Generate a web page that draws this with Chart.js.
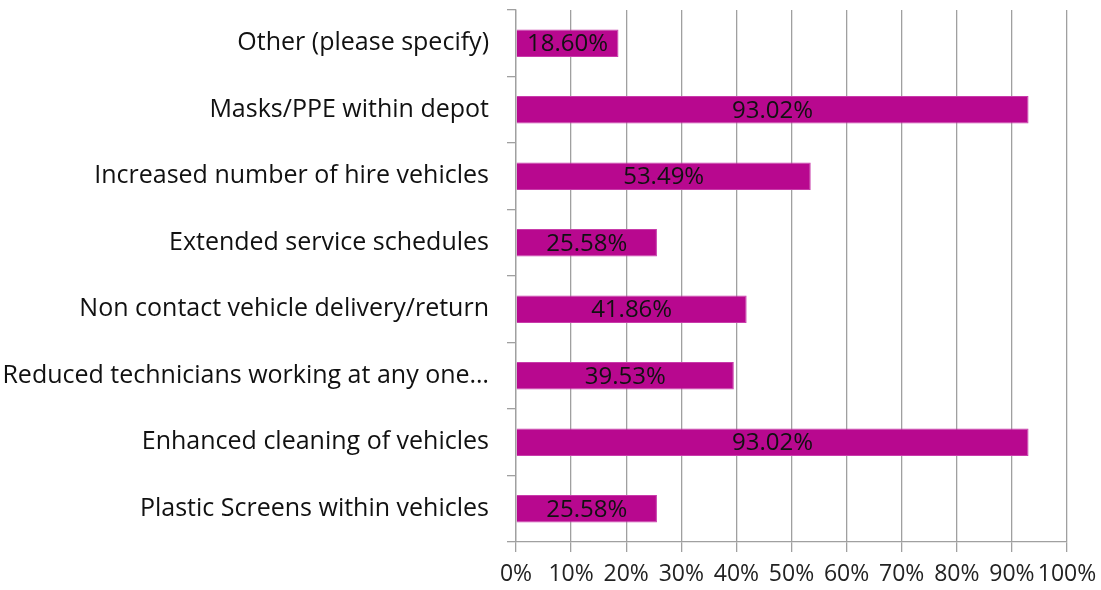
<!DOCTYPE html>
<html lang="en">
  <head>
    <meta charset="utf-8">
    <title>Measures</title>
    <script src="https://cdn.jsdelivr.net/npm/chart.js"></script>
    <style>
      html, body { margin: 0; padding: 0; background: #fff; }
      #wrap { width: 1101px; height: 590px; }
    </style>
  </head>
  <body>
    <div id="wrap"><canvas id="chart"></canvas></div>
    <script>
      const categories = [
        "Other (please specify)",
        "Masks/PPE within depot",
        "Increased number of hire vehicles",
        "Extended service schedules",
        "Non contact vehicle delivery/return",
        "Reduced technicians working at any one…",
        "Enhanced cleaning of vehicles",
        "Plastic Screens within vehicles",
      ];
      const values = [18.60, 93.02, 53.49, 25.58, 41.86, 39.53, 93.02, 25.58];

      const FONT = "'Open Sans', Lato, sans-serif";
      const BAR = "rgb(184, 8, 143)";

      // labels in the middle of each bar
      const barLabels = {
        id: "barLabels",
        afterDatasetsDraw(chart) {
          const ctx = chart.ctx;
          ctx.save();
          ctx.font = "24px " + FONT;
          ctx.fillStyle = "#111";
          ctx.textAlign = "center";
          ctx.textBaseline = "middle";
          chart.getDatasetMeta(0).data.forEach((bar, i) => {
            let x = (bar.x + bar.base) / 2;
            ctx.fillText(values[i].toFixed(2) + "%", x, bar.y + 1);
          });
          ctx.restore();
        }
      };

      new Chart(document.getElementById("chart"), {
        type: "bar",
        data: {
          labels: categories,
          datasets: [{
            data: values,
            backgroundColor: BAR,
            borderColor: "rgb(200, 60, 170)",
            borderWidth: 1,
            barPercentage: 0.41,
            categoryPercentage: 1,
          }]
        },
        options: {
          indexAxis: "y",
          responsive: true,
          maintainAspectRatio: false,
          animation: false,
          layout: { padding: { top: 10, right: 34, bottom: 0, left: 0 } },
          plugins: { legend: { display: false }, tooltip: { enabled: false } },
          scales: {
            x: {
              min: 0,
              max: 100,
              afterFit: axis => {
                axis.height = 48;
                axis.paddingLeft = 0;
                axis.paddingRight = 0;
              },
              ticks: {
                stepSize: 10,
                autoSkip: false,
                callback: v => v + "%",
                font: { family: FONT, size: 23 },
                color: "#222",
                padding: 9,
                maxRotation: 0,
              },
              grid: { color: "#a0a0a0", lineWidth: 1.3, tickLength: 10 },
              border: { color: "#a0a0a0", width: 1.3 },
            },
            y: {
              afterFit: axis => {
                axis.width = 516;
                axis.paddingTop = 0;
                axis.paddingBottom = 0;
              },
              ticks: {
                font: { family: FONT, size: 25 },
                color: "#111",
                padding: 18,
              },
              grid: { drawOnChartArea: false, color: "#a0a0a0", lineWidth: 1.3, tickLength: 9 },
              border: { color: "#a0a0a0", width: 1.3 },
            }
          }
        },
        plugins: [barLabels]
      });
    </script>
  </body>
</html>
